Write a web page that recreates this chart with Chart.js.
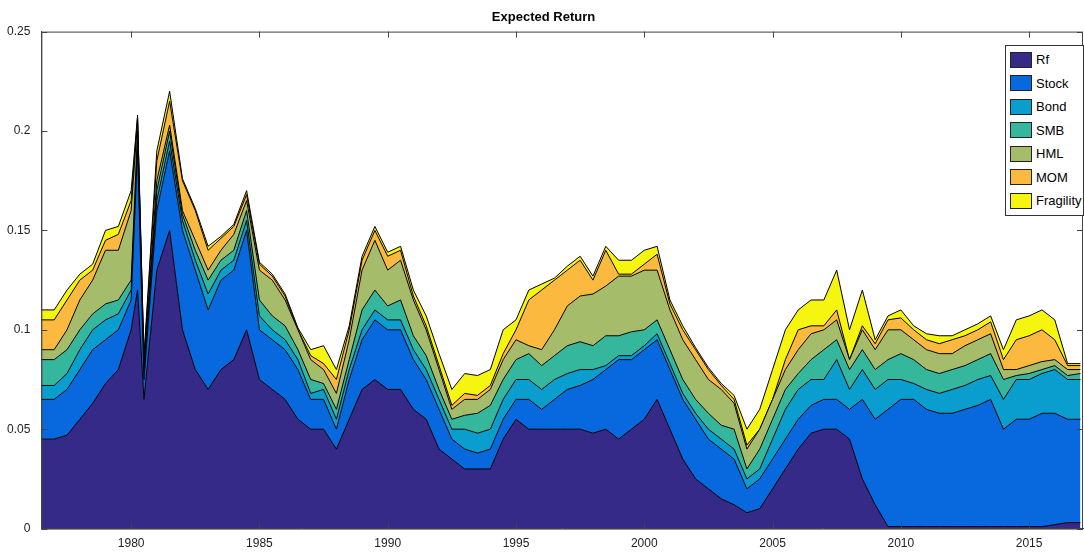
<!DOCTYPE html>
<html>
<head>
<meta charset="utf-8">
<script src="https://cdn.jsdelivr.net/npm/chart.js@4/dist/chart.umd.min.js"></script>
<style>
body { margin: 0; background: #fff; font-family: "Liberation Sans", Arial, sans-serif; }
#wrap { position: relative; width: 1084px; height: 553px; }
#legend { position: absolute; left: 1005px; top: 45px; width: 77px; border: 1px solid #333; background: #fff; font-size: 13px; padding: 2px 0; }
#legend div { display: flex; align-items: center; height: 23.5px; }
#legend span.sw { width: 22px; height: 16px; border: 1px solid #222; margin: 0 4px 0 4px; box-sizing: border-box; }
</style>
</head>
<body>
<div id="wrap">
<canvas id="myChart" width="1084" height="553"></canvas>
<div id="legend"></div>
</div>
<script>
// time axis (years)
const dates = [1976.5, 1977, 1977.5, 1978, 1978.5, 1979, 1979.5, 1980, 1980.25, 1980.5, 1981, 1981.5, 1982, 1982.5, 1983, 1983.5, 1984, 1984.5, 1985, 1985.5,
  1986, 1986.5, 1987, 1987.5, 1988, 1988.5, 1989, 1989.5, 1990, 1990.5, 1991, 1991.5, 1992, 1992.5, 1993, 1993.5, 1994, 1994.5, 1995, 1995.5,
  1996, 1996.5, 1997, 1997.5, 1998, 1998.5, 1999, 1999.5, 2000, 2000.5, 2001, 2001.5, 2002, 2002.5, 2003, 2003.5, 2004, 2004.5, 2005, 2005.5,
  2006, 2006.5, 2007, 2007.5, 2008, 2008.5, 2009, 2009.5, 2010, 2010.5, 2011, 2011.5, 2012, 2012.5, 2013, 2013.5, 2014, 2014.5, 2015, 2015.5,
  2016, 2016.5, 2017];

// cumulative top of each layer
const rf = [0.045, 0.045, 0.047, 0.055, 0.063, 0.073, 0.08, 0.1, 0.12, 0.065, 0.13, 0.15, 0.1, 0.08, 0.07, 0.08, 0.085, 0.1, 0.075, 0.07,
  0.065, 0.055, 0.05, 0.05, 0.04, 0.055, 0.07, 0.075, 0.07, 0.07, 0.06, 0.055, 0.04, 0.035, 0.03, 0.03, 0.03, 0.045, 0.055, 0.05,
  0.05, 0.05, 0.05, 0.05, 0.048, 0.05, 0.045, 0.05, 0.055, 0.065, 0.05, 0.035, 0.025, 0.02, 0.015, 0.012, 0.008, 0.01, 0.02, 0.03,
  0.04, 0.048, 0.05, 0.05, 0.045, 0.025, 0.012, 0.001, 0.001, 0.001, 0.001, 0.001, 0.001, 0.001, 0.001, 0.001, 0.001, 0.001, 0.001, 0.001,
  0.002, 0.003, 0.003];
const stock = [0.065, 0.065, 0.07, 0.08, 0.09, 0.095, 0.1, 0.115, 0.19, 0.075, 0.16, 0.19, 0.15, 0.13, 0.11, 0.125, 0.13, 0.15, 0.1, 0.095,
  0.09, 0.08, 0.065, 0.065, 0.05, 0.075, 0.095, 0.105, 0.1, 0.1, 0.085, 0.075, 0.06, 0.045, 0.04, 0.038, 0.04, 0.055, 0.065, 0.065,
  0.06, 0.065, 0.07, 0.072, 0.075, 0.08, 0.085, 0.085, 0.09, 0.095, 0.08, 0.065, 0.055, 0.045, 0.04, 0.035, 0.02, 0.025, 0.035, 0.045,
  0.055, 0.062, 0.065, 0.065, 0.06, 0.065, 0.055, 0.06, 0.065, 0.065, 0.06, 0.058, 0.058, 0.06, 0.062, 0.065, 0.05, 0.055, 0.055, 0.058,
  0.058, 0.055, 0.055];
const bond = [0.072, 0.072, 0.078, 0.09, 0.1, 0.105, 0.108, 0.12, 0.195, 0.078, 0.165, 0.195, 0.155, 0.135, 0.118, 0.13, 0.135, 0.155, 0.107, 0.1,
  0.095, 0.085, 0.068, 0.07, 0.055, 0.08, 0.1, 0.11, 0.105, 0.105, 0.09, 0.08, 0.065, 0.05, 0.05, 0.048, 0.05, 0.065, 0.075, 0.075,
  0.07, 0.075, 0.078, 0.08, 0.08, 0.082, 0.087, 0.087, 0.092, 0.098, 0.083, 0.068, 0.058, 0.05, 0.045, 0.04, 0.025, 0.03, 0.045, 0.06,
  0.07, 0.075, 0.075, 0.085, 0.07, 0.08, 0.07, 0.075, 0.075, 0.073, 0.07, 0.068, 0.07, 0.072, 0.075, 0.077, 0.065, 0.075, 0.075, 0.078,
  0.08, 0.075, 0.075];
const smb = [0.085, 0.085, 0.09, 0.1, 0.108, 0.113, 0.115, 0.125, 0.2, 0.08, 0.17, 0.2, 0.158, 0.14, 0.125, 0.135, 0.14, 0.16, 0.115, 0.107,
  0.102, 0.09, 0.075, 0.073, 0.06, 0.085, 0.11, 0.12, 0.112, 0.115, 0.097, 0.087, 0.07, 0.055, 0.057, 0.058, 0.062, 0.075, 0.085, 0.088,
  0.082, 0.087, 0.092, 0.094, 0.092, 0.097, 0.097, 0.099, 0.1, 0.105, 0.09, 0.075, 0.065, 0.058, 0.052, 0.05, 0.03, 0.04, 0.055, 0.07,
  0.078, 0.085, 0.09, 0.095, 0.08, 0.09, 0.08, 0.085, 0.088, 0.085, 0.08, 0.078, 0.08, 0.082, 0.085, 0.088, 0.075, 0.077, 0.078, 0.08,
  0.082, 0.077, 0.078];
const hml = [0.09, 0.09, 0.1, 0.115, 0.125, 0.14, 0.14, 0.16, 0.205, 0.083, 0.175, 0.203, 0.16, 0.145, 0.13, 0.14, 0.148, 0.165, 0.13, 0.125,
  0.115, 0.1, 0.085, 0.08, 0.068, 0.095, 0.13, 0.145, 0.13, 0.135, 0.115, 0.1, 0.08, 0.06, 0.065, 0.065, 0.07, 0.085, 0.095, 0.092,
  0.09, 0.1, 0.112, 0.117, 0.118, 0.122, 0.127, 0.127, 0.13, 0.13, 0.11, 0.095, 0.085, 0.075, 0.07, 0.063, 0.04, 0.05, 0.065, 0.08,
  0.09, 0.098, 0.1, 0.105, 0.085, 0.1, 0.09, 0.1, 0.1, 0.095, 0.09, 0.088, 0.088, 0.092, 0.095, 0.098, 0.08, 0.08, 0.082, 0.084,
  0.085, 0.08, 0.08];
const mom = [0.105, 0.105, 0.115, 0.125, 0.13, 0.145, 0.148, 0.165, 0.207, 0.085, 0.185, 0.215, 0.175, 0.16, 0.14, 0.146, 0.152, 0.168, 0.133, 0.127,
  0.117, 0.1, 0.087, 0.083, 0.075, 0.1, 0.135, 0.15, 0.137, 0.14, 0.117, 0.102, 0.082, 0.062, 0.068, 0.067, 0.072, 0.088, 0.1, 0.115,
  0.12, 0.125, 0.13, 0.135, 0.125, 0.14, 0.128, 0.128, 0.133, 0.138, 0.113, 0.1, 0.09, 0.08, 0.072, 0.065, 0.042, 0.05, 0.065, 0.085,
  0.1, 0.102, 0.102, 0.11, 0.085, 0.102, 0.093, 0.105, 0.106, 0.1, 0.095, 0.093, 0.095, 0.097, 0.1, 0.104, 0.085, 0.095, 0.097, 0.1,
  0.095, 0.082, 0.082];
const frag = [0.11, 0.11, 0.12, 0.128, 0.133, 0.15, 0.152, 0.17, 0.208, 0.087, 0.19, 0.22, 0.176, 0.161, 0.142, 0.147, 0.153, 0.17, 0.134, 0.128,
  0.118, 0.101, 0.09, 0.092, 0.08, 0.102, 0.137, 0.152, 0.139, 0.142, 0.12, 0.107, 0.088, 0.07, 0.078, 0.077, 0.08, 0.1, 0.105, 0.12,
  0.123, 0.126, 0.132, 0.137, 0.127, 0.142, 0.135, 0.135, 0.14, 0.142, 0.115, 0.102, 0.091, 0.081, 0.073, 0.067, 0.05, 0.06, 0.08, 0.1,
  0.11, 0.115, 0.115, 0.13, 0.1, 0.12, 0.095, 0.107, 0.11, 0.102, 0.098, 0.097, 0.097, 0.1, 0.103, 0.107, 0.09, 0.105, 0.107, 0.11,
  0.105, 0.083, 0.083];

const names = ['Rf', 'Stock', 'Bond', 'SMB', 'HML', 'MOM', 'Fragility'];
const colors = ['#352a87', '#0868de', '#0a9ecf', '#35b79e', '#a5bd6a', '#fbb940', '#f5f510'];
const series = [rf, stock, bond, smb, hml, mom, frag];
const yearTicks = [1980, 1985, 1990, 1995, 2000, 2005, 2010, 2015];

let datasets = series.map((s, i) => ({
    label: names[i],
    data: s.map((v, k) => ({x: dates[k], y: v})),
    backgroundColor: colors[i],
    borderColor: '#000',
    borderWidth: 1,
    pointRadius: 0,
    tension: 0,
    fill: i === 0 ? 'origin' : '-1'
}));

// matlab-like box round the axes, ticks pointing in
const boxPlugin = {
    id: 'box',
    afterDatasetsDraw(c) {
        let a = c.chartArea, ctx = c.ctx;
        ctx.save();
        ctx.strokeStyle = '#444';
        ctx.lineWidth = 1;
        ctx.strokeRect(a.left + 0.5, a.top + 0.5, a.right - a.left - 1, a.bottom - a.top);
        ctx.beginPath();
        c.scales.x.ticks.forEach(t => {
            let px = Math.round(c.scales.x.getPixelForValue(t.value)) + 0.5;
            ctx.moveTo(px, a.bottom); ctx.lineTo(px, a.bottom - 6);
            ctx.moveTo(px, a.top); ctx.lineTo(px, a.top + 6);
        });
        c.scales.y.ticks.forEach(t => {
            let py = Math.round(c.scales.y.getPixelForValue(t.value)) + 0.5;
            ctx.moveTo(a.left, py); ctx.lineTo(a.left + 6, py);
            ctx.moveTo(a.right, py); ctx.lineTo(a.right - 6, py);
        });
        ctx.stroke();
        ctx.restore();
    }
};

let chartElem = document.getElementById('myChart');
let chart = new Chart(chartElem, {
    type: 'line',
    data: {datasets: datasets},
    plugins: [boxPlugin],
    options: {
        responsive: false,
        animation: false,
        layout: {padding: {top: 10, right: 1, left: 4, bottom: -6}},
        plugins: {
            legend: {display: false},
            title: {display: true, text: 'Expected Return', color: '#000', font: {family: 'Liberation Sans', size: 13, weight: 'bold'}, padding: {top: 0, bottom: 6}}
        },
        scales: {
            x: {
                type: 'linear', min: 1976.5, max: 2017.1,
                afterBuildTicks: (ax) => { ax.ticks = yearTicks.map(v => ({value: v})); },
                grid: {display: false, drawTicks: false},
                border: {color: '#444'},
                ticks: {color: '#222', font: {family: 'Liberation Sans', size: 12}, callback: v => String(v), maxRotation: 0, padding: 8}
            },
            y: {
                min: 0, max: 0.25,
                afterBuildTicks: (ax) => { ax.ticks = [0, 0.05, 0.1, 0.15, 0.2, 0.25].map(v => ({value: v})); },
                grid: {display: false},
                border: {color: '#444'},
                ticks: {color: '#222', font: {family: 'Liberation Sans', size: 12}, callback: v => String(+v.toFixed(2))}
            }
        }
    }
});

// legend box in the top right corner
let lg = document.getElementById('legend');
names.forEach((n, i) => {
    let row = document.createElement('div');
    row.innerHTML = `<span class="sw" style="background:${colors[i]}"></span>${n}`;
    lg.appendChild(row);
});
</script>
</body>
</html>
